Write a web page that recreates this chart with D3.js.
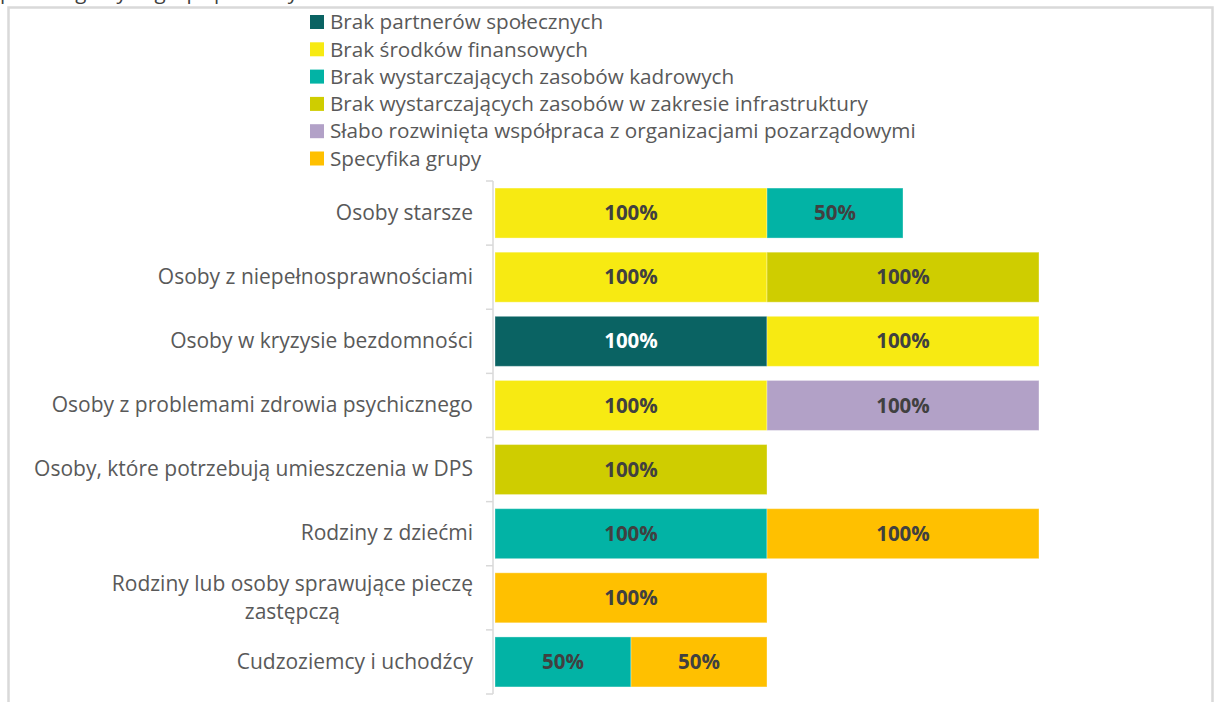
<!DOCTYPE html>
<html lang="pl">
<head>
<meta charset="utf-8">
<script src="https://cdn.jsdelivr.net/npm/d3@7"></script>
<style>
  html, body { margin: 0; padding: 0; background: #fff; }
  svg { display: block; font-family: "Open Sans", "Noto Sans", sans-serif; }
</style>
</head>
<body>
<svg id="chart" width="1215" height="702"></svg>
<script>
// Target groups (top to bottom)
const categories = [
  "Osoby starsze",
  "Osoby z niepełnosprawnościami",
  "Osoby w kryzysie bezdomności",
  "Osoby z problemami zdrowia psychicznego",
  "Osoby, które potrzebują umieszczenia w DPS",
  "Rodziny z dziećmi",
  "Rodziny lub osoby sprawujące pieczę zastępczą",
  "Cudzoziemcy i uchodźcy"
];

// Barriers (series), in stacking order
const seriesNames = [
  "Brak partnerów społecznych",
  "Brak środków finansowych",
  "Brak wystarczających zasobów kadrowych",
  "Brak wystarczających zasobów w zakresie infrastruktury",
  "Słabo rozwinięta współpraca z organizacjami pozarządowymi",
  "Specyfika grupy"
];

const seriesColors = ["#0a6363", "#f7ea12", "#02b3a5", "#cfcd00", "#b2a1c7", "#ffc000"];

// Share of answers (%) per group, one array per series
const brakPartnerow      = [0,   0,   100, 0,   0,   0,   0,   0];
const brakSrodkow        = [100, 100, 100, 100, 0,   0,   0,   0];
const brakKadr           = [50,  0,   0,   0,   0,   100, 0,   50];
const brakInfrastruktury = [0,   100, 0,   0,   100, 0,   0,   0];
const slabaWspolpraca    = [0,   0,   0,   100, 0,   0,   0,   0];
const specyfikaGrupy     = [0,   0,   0,   0,   0,   100, 100, 50];

const seriesValues = [brakPartnerow, brakSrodkow, brakKadr, brakInfrastruktury, slabaWspolpraca, specyfikaGrupy];

// Heading line above the frame (only its lower edge fits on the page)
const headingText = "poszczególnych grup społecznych";

const rows = categories.map((c, i) => {
  const r = { category: c };
  seriesNames.forEach((s, j) => { r[s] = seriesValues[j][i]; });
  return r;
});

const svg = d3.select("#chart");

// heading, clipped by the top edge
svg.append("text")
  .attr("x", 0).attr("y", -1.5)
  .attr("font-size", 20.5).attr("fill", "#404040")
  .text(headingText);

// chart frame
svg.append("rect")
  .attr("x", 8.5).attr("y", 7.5)
  .attr("width", 1204).attr("height", 720)
  .attr("fill", "#fff").attr("stroke", "#d9d9d9").attr("stroke-width", 2.5);

const color = d3.scaleOrdinal().domain(seriesNames).range(seriesColors);

const y = d3.scaleBand()
  .domain(categories)
  .range([181, 694])
  .paddingInner(0.22)
  .paddingOuter(0.11);

const x = d3.scaleLinear().domain([0, 200]).range([495, 1039]);

const stacked = d3.stack().keys(seriesNames)(rows);

// bars
const layers = svg.append("g").selectAll("g")
  .data(stacked)
  .join("g")
  .attr("fill", d => color(d.key));

layers.selectAll("rect")
  .data(d => d.filter(p => p[1] - p[0] > 0))
  .join("rect")
  .attr("x", p => x(p[0]))
  .attr("y", p => y(p.data.category))
  .attr("width", p => x(p[1]) - x(p[0]))
  .attr("height", y.bandwidth())
  .attr("stroke", "#fff").attr("stroke-opacity", 0.35).attr("stroke-width", 1);

// value labels
layers.selectAll("text")
  .data(d => d.filter(p => p[1] - p[0] > 0).map(p => ({ p, key: d.key })))
  .join("text")
  .attr("x", d => (x(d.p[0]) + x(d.p[1])) / 2)
  .attr("y", d => y(d.p.data.category) + y.bandwidth() / 2)
  .attr("dy", "0.35em")
  .attr("text-anchor", "middle")
  .attr("font-size", 20.5).attr("font-weight", 700)
  .attr("fill", d => d.key === seriesNames[0] ? "#ffffff" : "#404040")
  .text(d => (d.p[1] - d.p[0]) + "%");

// category axis
const axisX = 493;
const axisG = svg.append("g").attr("transform", `translate(${axisX},0)`);
axisG.call(d3.axisLeft(y).tickSize(0).tickPadding(20));
axisG.select(".domain").remove();
axisG.selectAll(".tick text")
  .attr("font-size", 21).attr("font-family", "\"Open Sans\", sans-serif")
  .attr("fill", "#595959")
  .each(function (d) {
    const t = d3.select(this);
    if (d === "Rodziny lub osoby sprawujące pieczę zastępczą") {
      const lines = ["Rodziny lub osoby sprawujące pieczę", "zastępczą"];
      t.text(null);
      const first = t.append("tspan").attr("x", -20).attr("dy", "-0.32em").text(lines[0]);
      const w = first.node().getComputedTextLength();
      t.append("tspan").attr("x", -20 - w / 2).attr("dy", "1.35em")
        .attr("text-anchor", "middle").text(lines[1]);
    }
  });

// axis line and category separators
const step = y.step();
const bounds = categories.map(c => y(c) - (step - y.bandwidth()) / 2)
  .concat([y(categories[categories.length - 1]) + y.bandwidth() + (step - y.bandwidth()) / 2]);
svg.append("line")
  .attr("x1", axisX).attr("x2", axisX)
  .attr("y1", bounds[0]).attr("y2", bounds[bounds.length - 1])
  .attr("stroke", "#d9d9d9").attr("stroke-width", 1.5);
svg.append("g").selectAll("line")
  .data(bounds)
  .join("line")
  .attr("x1", axisX - 7).attr("x2", axisX)
  .attr("y1", d => d).attr("y2", d => d)
  .attr("stroke", "#d9d9d9").attr("stroke-width", 1.5);

// legend
const legend = svg.append("g").selectAll("g")
  .data(seriesNames)
  .join("g")
  .attr("transform", (d, i) => `translate(310,${22 + i * 27.3})`);
legend.append("rect")
  .attr("x", 0).attr("y", -7).attr("width", 14).attr("height", 14)
  .attr("fill", d => color(d));
legend.append("text")
  .attr("x", 20).attr("dy", "0.35em")
  .attr("font-size", 20.7).attr("fill", "#595959")
  .text(d => d);
</script>
</body>
</html>
